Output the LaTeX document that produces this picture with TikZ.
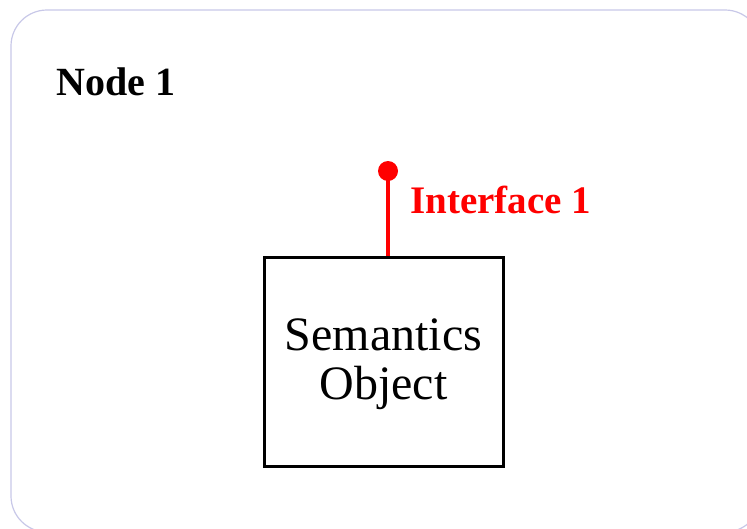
\documentclass[tikz,border=0pt]{standalone}
\usepackage{fontspec}
\setmainfont{Liberation Serif}
\definecolor{frame}{RGB}{200,200,232}
\definecolor{ifred}{RGB}{255,0,0}
\tikzset{
  frameline/.style={draw=frame, line width=1.2pt, rounded corners=36pt},
  objbox/.style={draw=black, line width=3pt, minimum width=239pt, minimum height=208.5pt, inner sep=0pt, align=center},
  objtext/.style={inner sep=0pt, align=center, font=\fontsize{48}{49}\selectfont},
  ifline/.style={draw=ifred, line width=3.5pt},
  iflabel/.style={text=ifred, font=\bfseries\fontsize{39}{39}\selectfont, inner sep=0pt, anchor=base west},
  nodelabel/.style={font=\bfseries\fontsize{40}{40}\selectfont, inner sep=0pt, anchor=base west}
}
\begin{document}
\begin{tikzpicture}[x=1pt,y=-1pt]
\useasboundingbox (0,0) rectangle (747,528);
\fill[white] (0,0) rectangle (747,528);
\draw[frameline] (11,10) rectangle (761,532);
\node[nodelabel] (title) at (56,95) {Node 1};
\node[objbox] (obj) at (383.5,361.75) {};
\node[objtext] (objlabel) at (383.5,364) {Semantics\\Object};
\coordinate (ifend) at (388,171);
\draw[ifline] (ifend) -- (obj.north -| ifend);
\fill[ifred] (ifend) circle (10pt);
\node[iflabel] (iftext) at (410,213) {Interface 1};
\end{tikzpicture}
\end{document}
